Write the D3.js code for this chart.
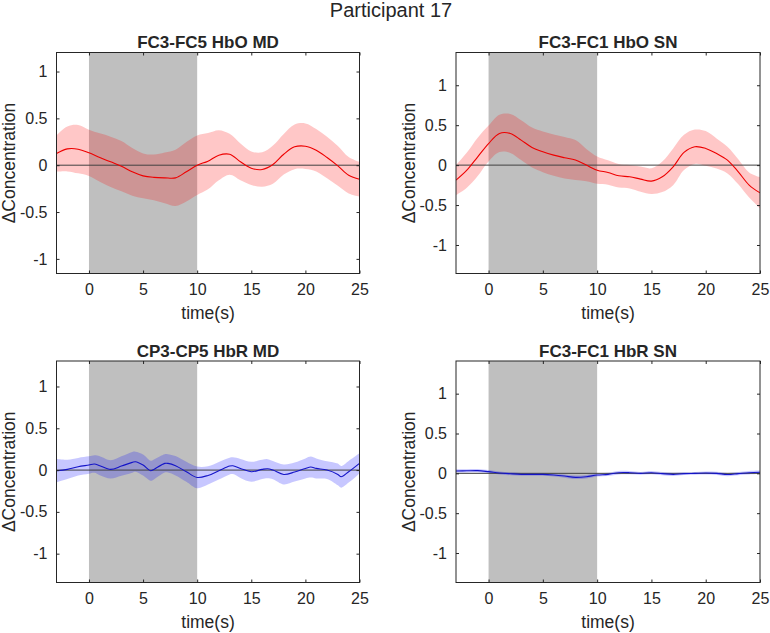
<!DOCTYPE html>
<html lang="en">
<head>
<meta charset="UTF-8">
<title>Participant 17</title>
<script src="https://d3js.org/d3.v7.min.js"></script>
<style>
  body { margin: 0; background: #fff; }
  text { font-family: "Liberation Sans", Arial, Helvetica, sans-serif; fill: #262626; }
</style>
</head>
<body>
<svg id="fig" width="770" height="633"></svg>
<script>
// time grid (s) shared by most panels
const timeA = [-3,-2,-1,0,1,2,3,4,5,6,7,8,9,10,11,12,13,14,15,16,17,18,19,20,21,22,23,24,25];
// the HbR MD panel wiggles faster, so it has a few extra samples
const timeB = [-3,-2,-1,0,0.5,1,2,3,4,4.3,5,5.7,6,7,7.3,8,9,10,11,12,13,13.3,14,15,16,16.5,17,18,19,20,20.5,21,22,23,23.3,24,25];

// FC3-FC5 HbO MD
const meanP1 = [0.125,0.174,0.171,0.132,0.082,0.036,-0.01,-0.071,-0.114,-0.13,-0.135,-0.135,-0.07,0,0.043,0.107,0.117,0.036,-0.032,-0.046,0.007,0.117,0.196,0.203,0.16,0.082,-0.007,-0.107,-0.15];
const semP1  = [0.195,0.24,0.258,0.247,0.258,0.269,0.268,0.254,0.24,0.244,0.271,0.30,0.317,0.317,0.30,0.267,0.218,0.196,0.178,0.183,0.204,0.217,0.238,0.243,0.226,0.222,0.213,0.195,0.185];

// FC3-FC1 HbO SN
const meanP2 = [-0.188,-0.063,0.104,0.27,0.397,0.397,0.313,0.221,0.167,0.125,0.092,0.063,0,-0.063,-0.092,-0.134,-0.146,-0.175,-0.2,-0.146,-0.021,0.159,0.23,0.209,0.146,0.063,-0.084,-0.25,-0.347];
const semP2  = [0.188,0.22,0.24,0.225,0.234,0.244,0.25,0.251,0.255,0.259,0.261,0.25,0.203,0.171,0.153,0.147,0.146,0.157,0.161,0.192,0.23,0.22,0.215,0.217,0.188,0.167,0.157,0.157,0.195];

// CP3-CP5 HbR MD (on timeB)
const meanP3 = [-0.008,0.008,0.04,0.06,0.072,0.052,0.008,0.048,0.092,0.1,0.06,-0.008,0.008,0.08,0.08,0.052,-0.02,-0.088,-0.064,-0.008,0.048,0.052,0.02,-0.02,0.008,0.016,0,-0.052,-0.024,0.02,0.036,0.02,0,-0.052,-0.08,-0.02,0.08];
const semP3  = [0.14,0.116,0.106,0.104,0.105,0.114,0.11,0.116,0.124,0.12,0.126,0.12,0.12,0.11,0.11,0.116,0.12,0.13,0.11,0.106,0.10,0.1,0.114,0.12,0.116,0.115,0.11,0.12,0.114,0.12,0.125,0.12,0.106,0.13,0.13,0.13,0.12];

// FC3-FC1 HbR SN
const meanP4 = [0.03,0.032,0.034,0.021,0.005,-0.005,-0.013,-0.013,-0.013,-0.021,-0.034,-0.05,-0.042,-0.021,-0.013,0.008,0.008,0,0.008,-0.004,-0.013,-0.004,0,0.004,0,-0.015,-0.004,0.008,0.013];
const semP4  = [0.02,0.02,0.02,0.02,0.018,0.018,0.018,0.018,0.018,0.02,0.02,0.022,0.022,0.02,0.02,0.022,0.02,0.018,0.02,0.02,0.02,0.018,0.018,0.02,0.02,0.02,0.02,0.022,0.022];

const xDomain = [-3, 25];
const taskWindow = [0, 10];
const xTicks = [0, 5, 10, 15, 20, 25];
const yTicks = [-1, -0.5, 0, 0.5, 1];

const panels = [
  { title: "FC3-FC5 HbO MD", t: timeA, mean: meanP1, sem: semP1, yDomain: [-1.156, 1.203], color: "#ff0000", box: [56.5, 52.5, 359.5, 273.5] },
  { title: "FC3-FC1 HbO SN", t: timeA, mean: meanP2, sem: semP2, yDomain: [-1.357, 1.41],  color: "#ff0000", box: [456, 52.5, 760, 273.5] },
  { title: "CP3-CP5 HbR MD", t: timeB, mean: meanP3, sem: semP3, yDomain: [-1.345, 1.305], color: "#0000ff", box: [56.5, 361, 359.5, 582.5] },
  { title: "FC3-FC1 HbR SN", t: timeA, mean: meanP4, sem: semP4, yDomain: [-1.37, 1.41],   color: "#0000ff", box: [456, 361, 760, 582.5] }
];

const svg = d3.select("#fig");
const fmt = d => String(d);
const tickLen = 3;
const curve = d3.curveCatmullRom;

svg.append("text")
  .attr("x", 391).attr("y", 17)
  .attr("text-anchor", "middle")
  .style("font-size", "20px")
  .text("Participant 17");

panels.forEach((p, i) => {
  const [x0, y0, x1, y1] = p.box;
  const x = d3.scaleLinear().domain(xDomain).range([x0, x1]);
  const y = d3.scaleLinear().domain(p.yDomain).range([y1, y0]);
  const line = p.color === "#ff0000" ? "#ee0000" : "#1414c8";
  const g = svg.append("g");

  g.append("clipPath").attr("id", "clip" + i)
    .append("rect").attr("x", x0).attr("y", y0).attr("width", x1 - x0).attr("height", y1 - y0);
  const plot = g.append("g").attr("clip-path", `url(#clip${i})`);

  // stimulus window
  plot.append("rect")
    .attr("x", x(taskWindow[0])).attr("y", y0)
    .attr("width", x(taskWindow[1]) - x(taskWindow[0])).attr("height", y1 - y0)
    .attr("fill", "#bfbfbf");

  const rows = p.t.map((t, k) => ({ t, m: p.mean[k], s: p.sem[k] }));

  plot.append("path").datum(rows)
    .attr("d", d3.area().curve(curve)
      .x(d => x(d.t)).y0(d => y(d.m - d.s)).y1(d => y(d.m + d.s)))
    .attr("fill", p.color).attr("fill-opacity", 0.22);

  plot.append("line")
    .attr("x1", x0).attr("x2", x1).attr("y1", y(0)).attr("y2", y(0))
    .attr("stroke", "#404040").attr("stroke-width", 1);

  plot.append("path").datum(rows)
    .attr("d", d3.line().curve(curve).x(d => x(d.t)).y(d => y(d.m)))
    .attr("fill", "none").attr("stroke", line).attr("stroke-width", 1.1);

  // axes, MATLAB style: ticks inward on all four sides
  const ax = g.append("g").attr("class", "axes");
  ax.append("g").attr("transform", `translate(0,${y1})`)
    .call(d3.axisBottom(x).tickValues(xTicks).tickSizeInner(-tickLen).tickSizeOuter(0).tickPadding(10).tickFormat(fmt));
  ax.append("g").attr("transform", `translate(0,${y0})`)
    .call(d3.axisTop(x).tickValues(xTicks).tickSizeInner(-tickLen).tickSizeOuter(0).tickFormat(""));
  ax.append("g").attr("transform", `translate(${x0},0)`)
    .call(d3.axisLeft(y).tickValues(yTicks).tickSizeInner(-tickLen).tickSizeOuter(0).tickPadding(9).tickFormat(fmt));
  ax.append("g").attr("transform", `translate(${x1},0)`)
    .call(d3.axisRight(y).tickValues(yTicks).tickSizeInner(-tickLen).tickSizeOuter(0).tickFormat(""));
  ax.selectAll(".domain").remove();
  ax.selectAll("line").attr("stroke", "#262626");
  ax.selectAll("text").style("font-size", "16px").attr("fill", "#262626")
    .style("font-family", "'Liberation Sans', Arial, sans-serif");

  g.append("rect")
    .attr("x", x0).attr("y", y0).attr("width", x1 - x0).attr("height", y1 - y0)
    .attr("fill", "none").attr("stroke", "#262626").attr("stroke-width", 1);

  g.append("text")
    .attr("x", (x0 + x1) / 2).attr("y", y0 - 4.5)
    .attr("text-anchor", "middle")
    .style("font-size", "17px").style("font-weight", "bold")
    .text(p.title);

  g.append("text")
    .attr("x", (x0 + x1) / 2).attr("y", y1 + 45)
    .attr("text-anchor", "middle")
    .style("font-size", "17.5px")
    .text("time(s)");

  g.append("text")
    .attr("transform", `translate(${x0 - 41.5},${(y0 + y1) / 2}) rotate(-90)`)
    .attr("text-anchor", "middle")
    .style("font-size", "17.5px")
    .text("ΔConcentration");
});
</script>
</body>
</html>
